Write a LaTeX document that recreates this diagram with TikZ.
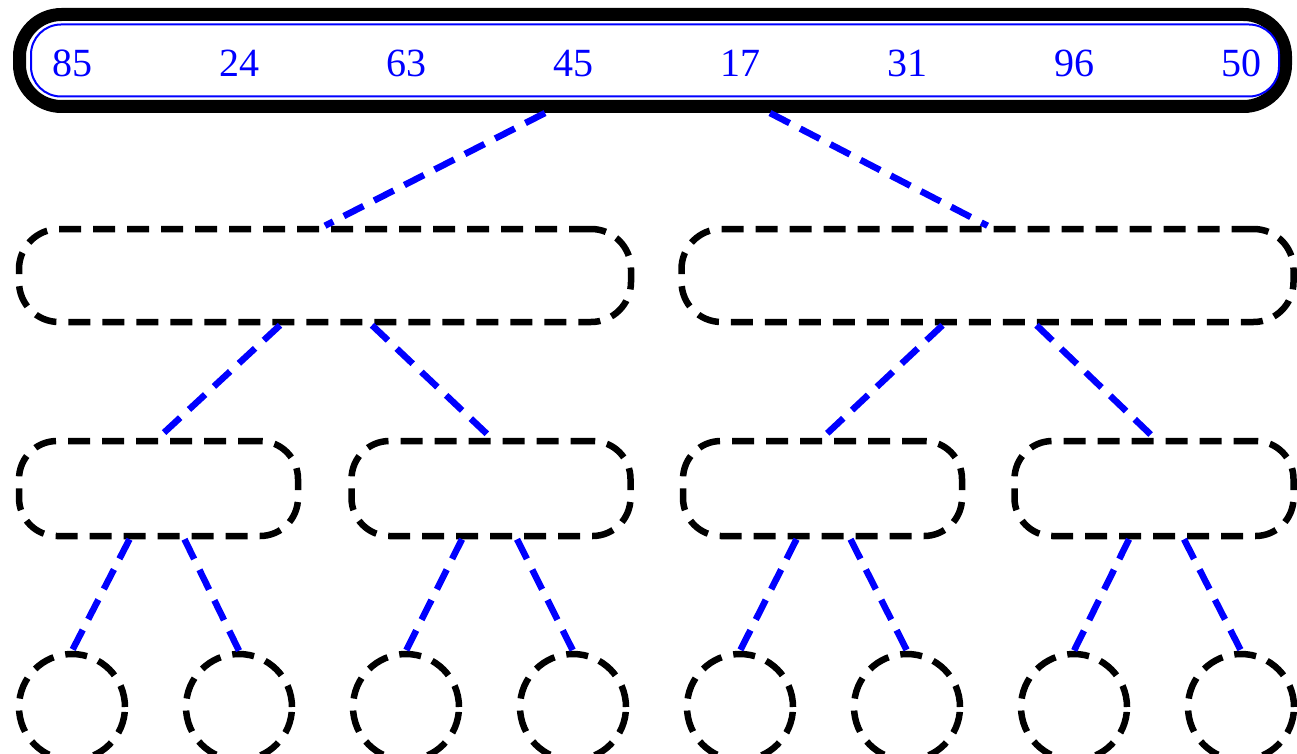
\documentclass[tikz,border=0pt]{standalone}
\usepackage{fontspec}
\setmainfont{Liberation Serif}
\begin{document}
\begin{tikzpicture}[x=1pt,y=-1pt,
  frame/.style={draw=black, line width=13pt, rounded corners=42pt, inner sep=0pt, minimum width=1266pt, minimum height=92pt},
  inframe/.style={draw=blue, line width=2pt, rounded corners=30pt, inner sep=0pt, minimum width=1248pt, minimum height=72pt},
  num/.style={text=blue, font=\fontsize{40}{48}\selectfont, anchor=base, inner sep=0pt},
  dbox/.style={draw=black, line width=6.5pt, dash pattern=on 22pt off 12pt, inner sep=0pt},
  bigbox/.style={dbox, rounded corners=40pt, minimum width=612pt, minimum height=93pt},
  midbox/.style={dbox, rounded corners=38pt, minimum width=279pt, minimum height=95pt},
  leaf/.style={dbox, circle, minimum size=106pt},
  conn/.style={draw=blue, line width=6.5pt, dash pattern=on 22pt off 12pt}]
\useasboundingbox (0,0) rectangle (1297,754);
% top array
\node[frame] (top) at (652.5,60.5) {};
\node[inframe] (inner) at (655,60.5) {};
\foreach \v [count=\i from 0] in {85,24,63,45,17,31,96,50}{
  \node[num] (n\i) at ({72+167*\i},77) {\v};
}
% level 2
\node[bigbox] (a) at (325,275.5) {};
\node[bigbox] (b) at (987.5,275.5) {};
% level 3
\node[midbox] (a1) at (158.5,488.5) {};
\node[midbox] (a2) at (491,488.5) {};
\node[midbox] (b1) at (822.5,488.5) {};
\node[midbox] (b2) at (1154,488.5) {};
% leaves
\foreach \i in {0,...,7}{
  \node[leaf] (l\i) at ({72+167*\i},707) {};
}
% connectors
\draw[conn] ([xshift=-107.5pt]top.south) -- (a.north);
\draw[conn] ([xshift=117.5pt]top.south) -- (b.north);
\draw[conn] ([xshift=-45pt]a.south) -- (a1.north);
\draw[conn] ([xshift=47pt]a.south) -- (a2.north);
\draw[conn] ([xshift=-45pt]b.south) -- (b1.north);
\draw[conn] ([xshift=49pt]b.south) -- (b2.north);
\draw[conn] ([xshift=-29pt]a1.south) -- (l0.north);
\draw[conn] ([xshift=26pt]a1.south) -- (l1.north);
\draw[conn] ([xshift=-29pt]a2.south) -- (l2.north);
\draw[conn] ([xshift=26pt]a2.south) -- (l3.north);
\draw[conn] ([xshift=-26pt]b1.south) -- (l4.north);
\draw[conn] ([xshift=28pt]b1.south) -- (l5.north);
\draw[conn] ([xshift=-25pt]b2.south) -- (l6.north);
\draw[conn] ([xshift=30pt]b2.south) -- (l7.north);
\end{tikzpicture}
\end{document}
